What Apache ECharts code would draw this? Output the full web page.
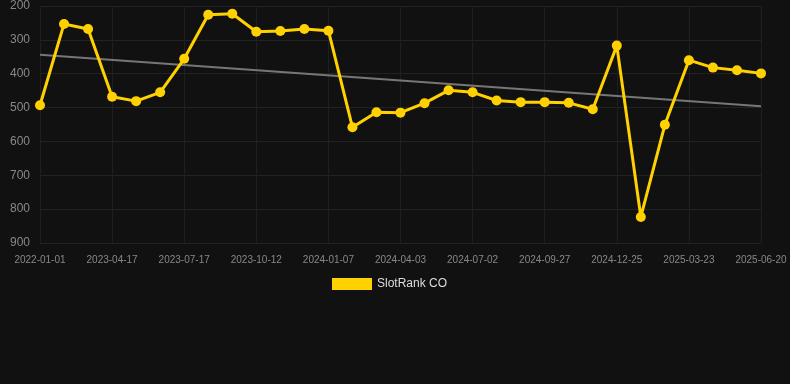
<!DOCTYPE html>
<html><head><meta charset="utf-8">
<script src="https://cdn.jsdelivr.net/npm/echarts@6/dist/echarts.min.js"></script>
<style>html,body{margin:0;padding:0;background:#111111;}#c{width:790px;height:384px;}</style>
</head><body><div id="c"></div>
<script>
var categories = ["2022-01-01","2023-02-16","2023-03-18","2023-04-17","2023-05-17","2023-06-16","2023-07-17","2023-08-15","2023-09-13","2023-10-12","2023-11-10","2023-12-09","2024-01-07","2024-02-05","2024-03-05","2024-04-03","2024-05-03","2024-06-02","2024-07-02","2024-07-31","2024-08-29","2024-09-27","2024-10-27","2024-11-25","2024-12-25","2025-01-23","2025-02-21","2025-03-23","2025-04-22","2025-05-21","2025-06-20"];
var rankValues = [493,253,268,468,481,455,356,226,223,276,274,268,273,558,514,515,487,449,455,479,484,484,486,505,317,823,551,360,382,390,399];
var trendStart = 344;
var trendEnd = 496;
var yTicks = {min:200, max:900, interval:100};

var trendData = [[0, trendStart], [categories.length - 1, trendEnd]];

var chart = echarts.init(document.getElementById('c'));
chart.setOption({
  backgroundColor: '#111111',
  animation: false,
  grid: {left: 40, right: 29, top: 6, bottom: 141},
  legend: {
    top: 273, left: 327,
    data: [{name: 'SlotRank CO', icon: 'rect'}],
    itemWidth: 40, itemHeight: 12, itemGap: 10,
    textStyle: {color: '#dddddd', fontSize: 12, fontFamily: 'Liberation Sans, Arial, sans-serif'}
  },
  xAxis: {
    type: 'category', data: categories, boundaryGap: false,
    axisLine: {show: true, lineStyle: {color: '#222222'}},
    axisTick: {show: false},
    axisLabel: {interval: 2, color: '#888888', fontSize: 10, margin: 12, fontFamily: 'Liberation Sans, Arial, sans-serif'},
    splitLine: {show: true, interval: 2, lineStyle: {color: '#1f1f1f'}}
  },
  yAxis: {
    type: 'value', inverse: true, min: yTicks.min, max: yTicks.max, interval: yTicks.interval,
    axisLine: {show: false}, axisTick: {show: false},
    axisLabel: {color: '#888888', fontSize: 12, margin: 10, fontFamily: 'Liberation Sans, Arial, sans-serif'},
    splitLine: {lineStyle: {color: '#222222'}}
  },
  series: [
    {
      name: 'SlotRank CO', type: 'line', data: rankValues,
      symbol: 'circle', symbolSize: 10,
      lineStyle: {color: '#FFD100', width: 3},
      itemStyle: {color: '#FFD100'},
      z: 3
    },
    {
      name: 'trend', type: 'line', data: trendData,
      symbol: 'none', lineStyle: {color: '#777777', width: 2},
      itemStyle: {color: '#777777'}, z: 2, silent: true
    }
  ]
});
</script></body></html>
